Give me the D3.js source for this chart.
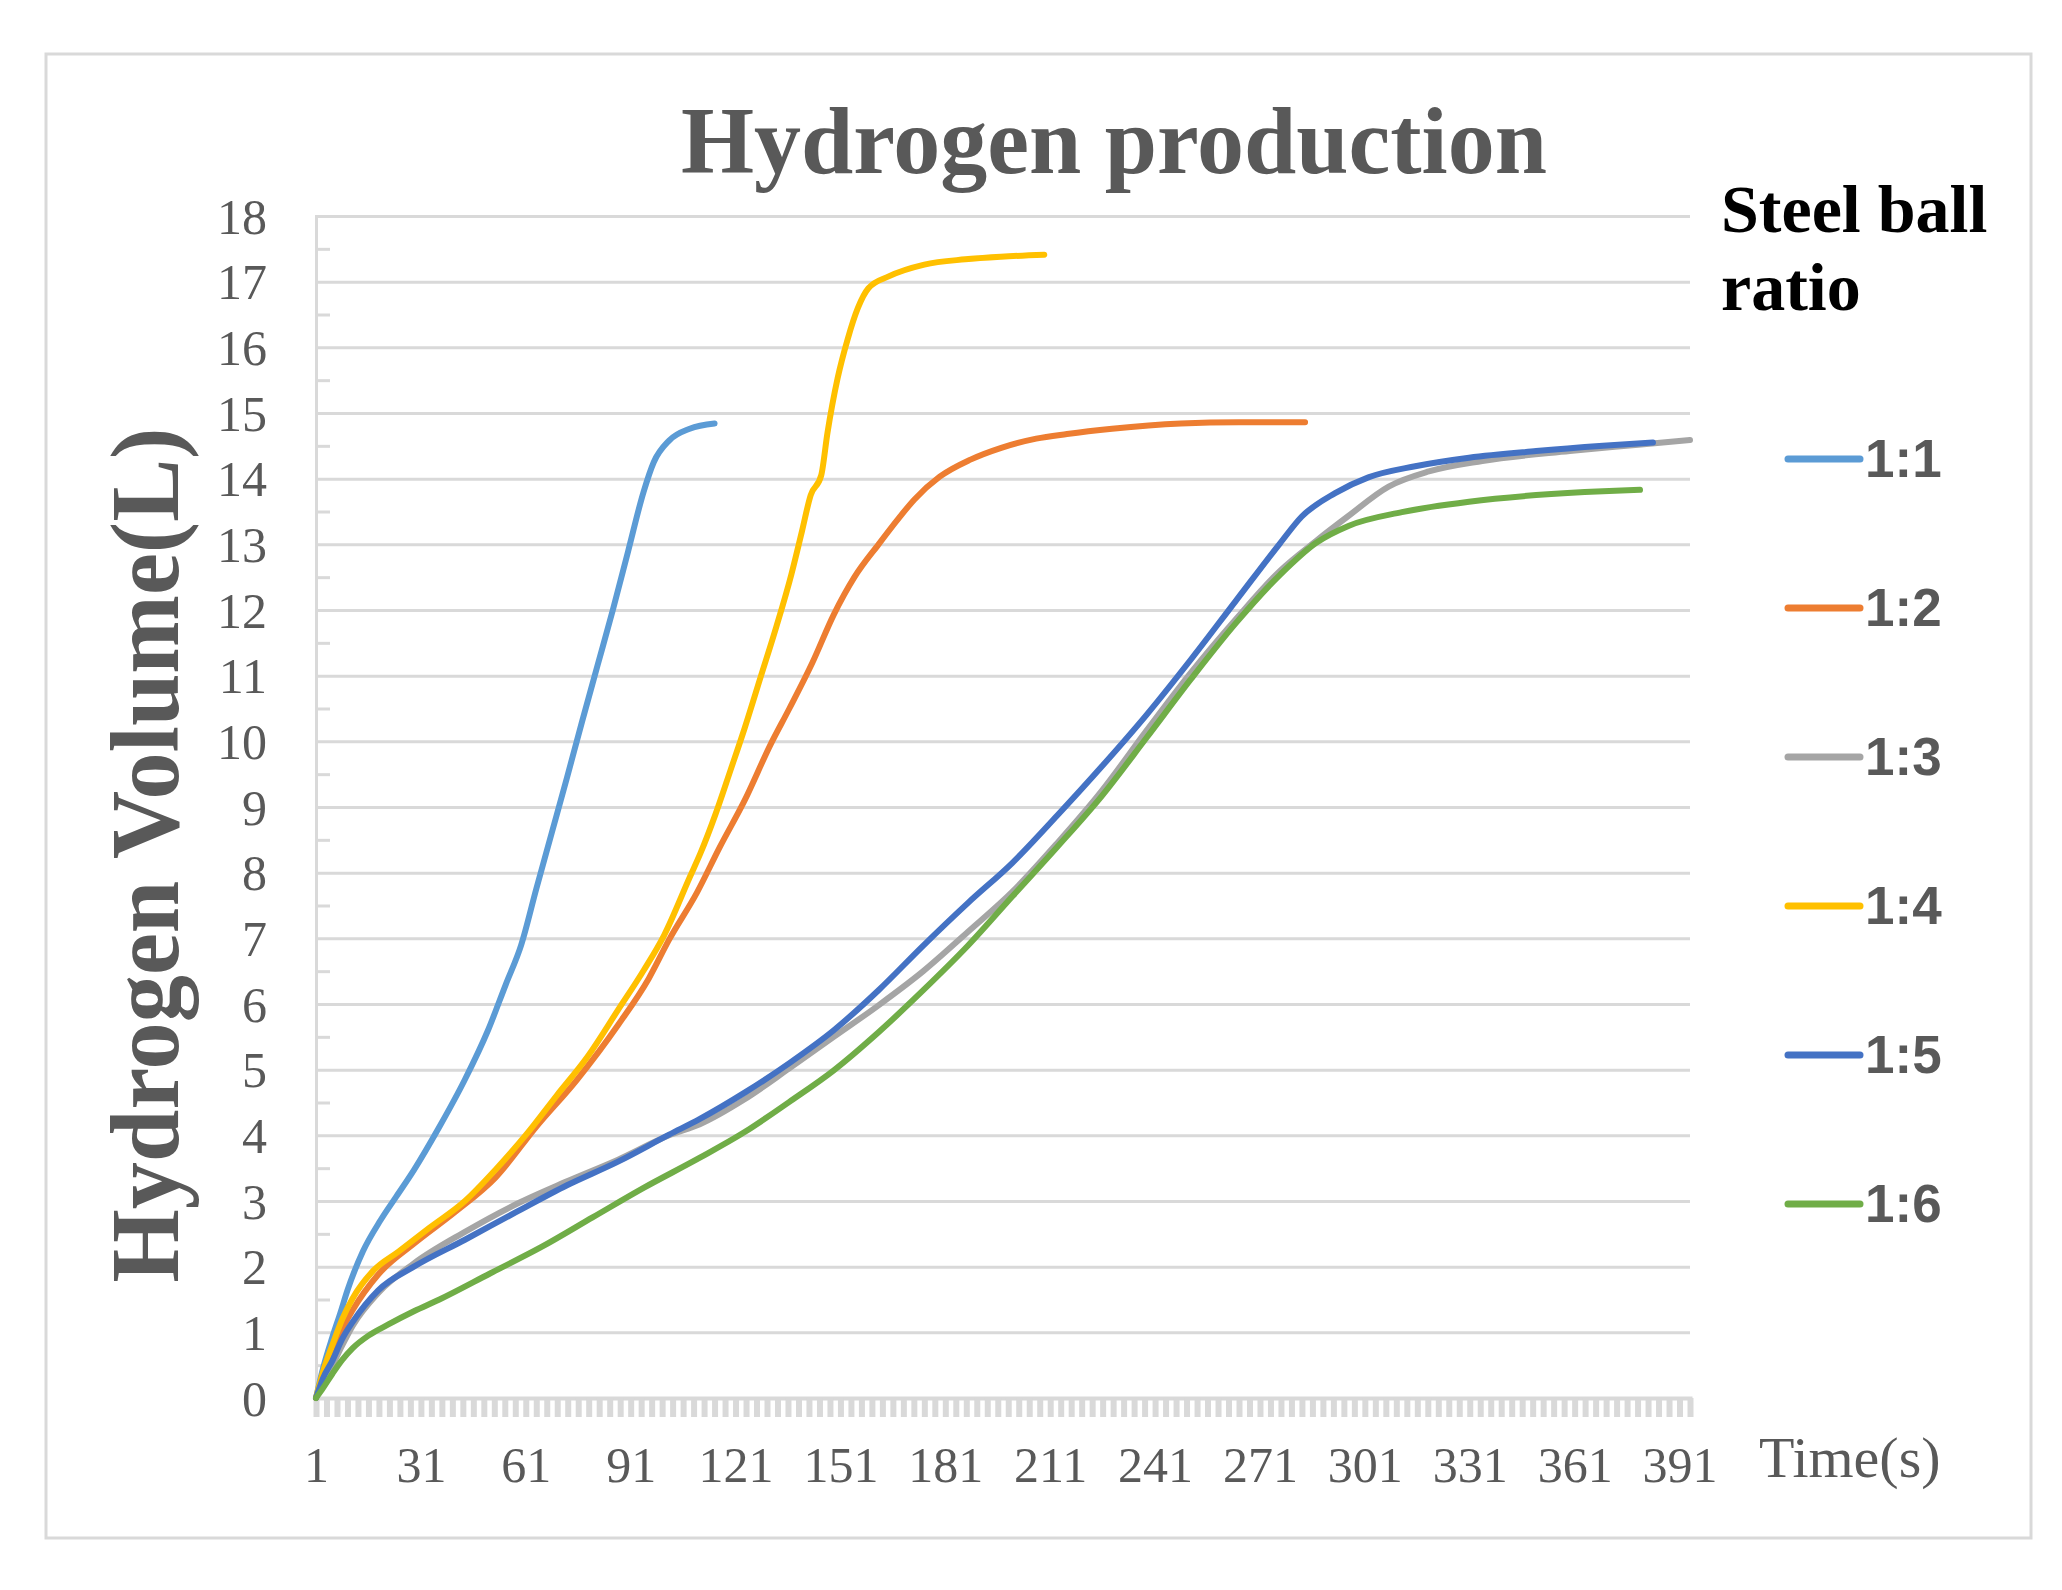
<!DOCTYPE html>
<html>
<head>
<meta charset="utf-8">
<script src="https://cdn.jsdelivr.net/npm/d3@7"></script>
<style>
body { margin: 0; background: #fff; }
</style>
</head>
<body>
<svg id="chart"></svg>
<script>
// legend order / series names
var ratios = ["1:1", "1:2", "1:3", "1:4", "1:5", "1:6"];

// [time (s), volume (L)]
var ratio11 = [[1,0],[3,0.45],[5.7,0.93],[8,1.3],[10,1.64],[14.4,2.23],[19.5,2.71],[24,3.07],[29,3.47],
  [36.3,4.13],[43.6,4.85],[50.2,5.6],[55.3,6.3],[59.7,6.9],[64,7.75],[68.4,8.6],[72.8,9.45],
  [77.1,10.3],[81.5,11.15],[85.9,12.0],[90.3,12.9],[94.7,13.8],[97.6,14.25],
  [102,14.58],[107.9,14.76],[115,14.84]];
var ratio12 = [[1,0],[3,0.3],[5.7,0.69],[8.5,1.05],[11.5,1.34],[18.8,1.88],[29,2.35],[40.7,2.83],
  [52.4,3.36],[64,4.13],[75.7,4.85],[87.4,5.68],[96.2,6.39],[102,6.98],[110,7.7],[116.6,8.4],
  [123.6,9.1],[131,9.95],[136.4,10.5],[143,11.2],[149.1,11.93],[155,12.5],[161.9,13.0],
  [167.7,13.4],[172.1,13.68],[179.4,14.03],[188.2,14.29],[197,14.47],[207,14.61],[215.8,14.68],
  [228.7,14.76],[248.4,14.84],[265,14.86],[283.9,14.86]];
var ratio13 = [[1,0],[3,0.25],[5.7,0.5],[8.5,0.8],[11.5,1.1],[18.8,1.6],[29,2.05],[43.6,2.53],
  [58.2,2.95],[72.8,3.3],[87.4,3.63],[102,4.0],[110.8,4.17],[123.6,4.55],[136.4,5.02],[149.1,5.5],
  [161.9,5.98],[174.7,6.5],[187.5,7.1],[200.2,7.71],[213,8.45],[225.8,9.25],[238.5,10.16],
  [251.3,11.05],[264.1,11.86],[276.8,12.6],[287,13.05],[296,13.42],[307.8,13.88],[319.3,14.11],
  [334.6,14.27],[359.6,14.42],[380,14.52],[394,14.59]];
var ratio14 = [[1,0],[3,0.4],[5.7,0.81],[8.5,1.2],[11.5,1.52],[17.4,1.94],[24.6,2.23],[33.4,2.59],
  [43.6,3.0],[52.4,3.48],[61.1,4.01],[69.9,4.61],[78.7,5.2],[87.4,5.91],[94.7,6.51],[100.6,7.05],
  [107.9,7.93],[111,8.3],[115.2,8.88],[119.5,9.55],[123.6,10.2],[128.3,11.0],[132.7,11.75],
  [137,12.55],[140,13.2],[142.5,13.75],[145.5,14.05],[147.3,14.7],[150.2,15.53],[153.1,16.13],
  [156,16.6],[159,16.9],[164.8,17.08],[175,17.26],[186.7,17.34],[196.9,17.38],[209.3,17.41]];
var ratio15 = [[1,0],[3,0.3],[5.7,0.57],[8.5,0.9],[11.5,1.16],[18.8,1.64],[29,2.0],[43.6,2.41],
  [58.2,2.83],[72.8,3.24],[87.4,3.6],[102,4.01],[110.8,4.25],[123.6,4.65],[136.4,5.1],[149.1,5.6],
  [161.9,6.21],[174.7,6.89],[187.5,7.54],[200.2,8.15],[213,8.87],[225.8,9.62],[238.5,10.4],
  [251.3,11.25],[264.1,12.14],[276.8,13.02],[282.9,13.42],[292.5,13.78],[302,14.02],[315.4,14.19],
  [330.8,14.32],[350,14.42],[369.1,14.5],[383.4,14.55]];
var ratio16 = [[1,0],[3,0.15],[5.7,0.37],[8.5,0.58],[11.5,0.76],[16,0.95],[21.7,1.12],[29,1.32],
  [36.3,1.5],[50.9,1.9],[65.5,2.3],[80.1,2.75],[94.7,3.2],[110.8,3.66],[123.6,4.05],[136.4,4.51],
  [149.1,4.99],[161.9,5.57],[174.7,6.21],[187.5,6.89],[200.2,7.64],[213,8.39],[225.8,9.17],
  [238.5,10.05],[251.3,10.95],[264.1,11.8],[276.8,12.54],[287,13.02],[296.3,13.28],[311.6,13.49],
  [330.8,13.65],[350,13.75],[369.1,13.81],[379.7,13.83]];

var xTickLabels = [1, 31, 61, 91, 121, 151, 181, 211, 241, 271, 301, 331, 361, 391];
var yTickLabels = [0, 1, 2, 3, 4, 5, 6, 7, 8, 9, 10, 11, 12, 13, 14, 15, 16, 17, 18];
var lastCategory = 394;

var allSeries = [ratio11, ratio12, ratio13, ratio14, ratio15, ratio16];
var colors = ["#5B9BD5", "#ED7D31", "#A5A5A5", "#FFC000", "#4472C4", "#70AD47"];

var screen = {width: 2062, height: 1590};
var plot = {left: 316, right: 1690, top: 216, bottom: 1398};
var gray = "#595959";
var lineGray = "#d9d9d9";
var serif = "'Liberation Serif', 'Times New Roman', serif";
var sans = "'Liberation Sans', Arial, sans-serif";

var svg = d3.select("#chart")
  .attr("width", screen.width)
  .attr("height", screen.height);

// outer frame
svg.append("rect")
  .attr("x", 46).attr("y", 54)
  .attr("width", 2031 - 46).attr("height", 1538 - 54)
  .attr("fill", "#fff")
  .attr("stroke", lineGray)
  .attr("stroke-width", 3);

var xscale = d3.scaleLinear().domain([1, lastCategory]).range([plot.left, plot.right]);
var yscale = d3.scaleLinear().domain([0, 18]).range([plot.bottom, plot.top]);

// gridlines
var grid = svg.append("g")
  .attr("transform", "translate(" + plot.left + ",0)")
  .call(d3.axisLeft(yscale).tickValues(yTickLabels.slice(1)).tickSize(-(plot.right - plot.left)).tickFormat(""));
grid.select(".domain").remove();
grid.selectAll("line").attr("stroke", lineGray).attr("stroke-width", 3);

// minor ticks on the value axis (inside)
var minor = svg.append("g")
  .attr("transform", "translate(" + plot.left + ",0)")
  .call(d3.axisRight(yscale).tickValues(d3.range(0.5, 18, 1)).tickSize(14).tickFormat(""));
minor.select(".domain").attr("stroke", lineGray).attr("stroke-width", 3);
minor.selectAll("line").attr("stroke", lineGray).attr("stroke-width", 3);

// y labels
var yAxis = svg.append("g")
  .attr("transform", "translate(" + plot.left + ",0)")
  .call(d3.axisLeft(yscale).tickValues(yTickLabels).tickSize(0).tickPadding(49));
yAxis.select(".domain").remove();
yAxis.selectAll("text")
  .style("font-family", serif)
  .style("font-size", "50px")
  .attr("fill", gray)
  .attr("dy", "0.34em");

// category ticks (dense comb)
var combTicks = d3.range(1, lastCategory + 1, 3);
var xComb = svg.append("g")
  .attr("transform", "translate(0," + plot.bottom + ")")
  .call(d3.axisBottom(xscale).tickValues(combTicks).tickSize(19).tickFormat(""));
xComb.select(".domain").attr("stroke", lineGray).attr("stroke-width", 4);
xComb.selectAll("line").attr("stroke", lineGray).attr("stroke-width", 6);

// x labels
var xAxis = svg.append("g")
  .attr("transform", "translate(0," + plot.bottom + ")")
  .call(d3.axisBottom(xscale).tickValues(xTickLabels).tickSize(0).tickPadding(48));
xAxis.select(".domain").remove();
xAxis.selectAll("text")
  .style("font-family", serif)
  .style("font-size", "50px")
  .attr("fill", gray);

// series
var line = d3.line()
  .x(function(d) { return xscale(d[0]); })
  .y(function(d) { return yscale(d[1]); })
  .curve(d3.curveMonotoneX);

svg.append("g").selectAll("path")
  .data(allSeries)
  .enter()
  .append("path")
  .attr("d", line)
  .attr("fill", "none")
  .attr("stroke", function(d, i) { return colors[i]; })
  .attr("stroke-width", 6)
  .attr("stroke-linecap", "round")
  .attr("stroke-linejoin", "round");

// title
svg.append("text")
  .attr("x", 1114).attr("y", 173)
  .attr("text-anchor", "middle")
  .style("font-family", serif)
  .style("font-size", "95px")
  .style("font-weight", "bold")
  .attr("fill", gray)
  .attr("textLength", 866)
  .attr("lengthAdjust", "spacingAndGlyphs")
  .text("Hydrogen production");

// y axis title
svg.append("text")
  .attr("transform", "translate(178,855) rotate(-90)")
  .attr("text-anchor", "middle")
  .style("font-family", serif)
  .style("font-size", "98px")
  .style("font-weight", "bold")
  .attr("fill", gray)
  .attr("textLength", 855)
  .attr("lengthAdjust", "spacingAndGlyphs")
  .text("Hydrogen Volume(L)");

// x axis title
svg.append("text")
  .attr("x", 1759).attr("y", 1477)
  .style("font-family", serif)
  .style("font-size", "58px")
  .attr("fill", gray)
  .text("Time(s)");

// legend
svg.append("text")
  .attr("x", 1721).attr("y", 232)
  .style("font-family", serif)
  .style("font-size", "68px")
  .style("font-weight", "bold")
  .attr("fill", "#000")
  .text("Steel ball");
svg.append("text")
  .attr("x", 1721).attr("y", 310)
  .style("font-family", serif)
  .style("font-size", "68px")
  .style("font-weight", "bold")
  .attr("fill", "#000")
  .text("ratio");

var legend = svg.append("g").selectAll("g")
  .data(ratios)
  .enter()
  .append("g")
  .attr("transform", function(d, i) { return "translate(0," + (459 + i * 149) + ")"; });
legend.append("line")
  .attr("x1", 1788).attr("x2", 1860)
  .attr("stroke", function(d, i) { return colors[i]; })
  .attr("stroke-width", 7)
  .attr("stroke-linecap", "round");
legend.append("text")
  .attr("x", 1865).attr("y", 18)
  .style("font-family", sans)
  .style("font-size", "53px")
  .style("font-weight", "bold")
  .attr("fill", gray)
  .text(function(d) { return d; });
</script>
</body>
</html>
